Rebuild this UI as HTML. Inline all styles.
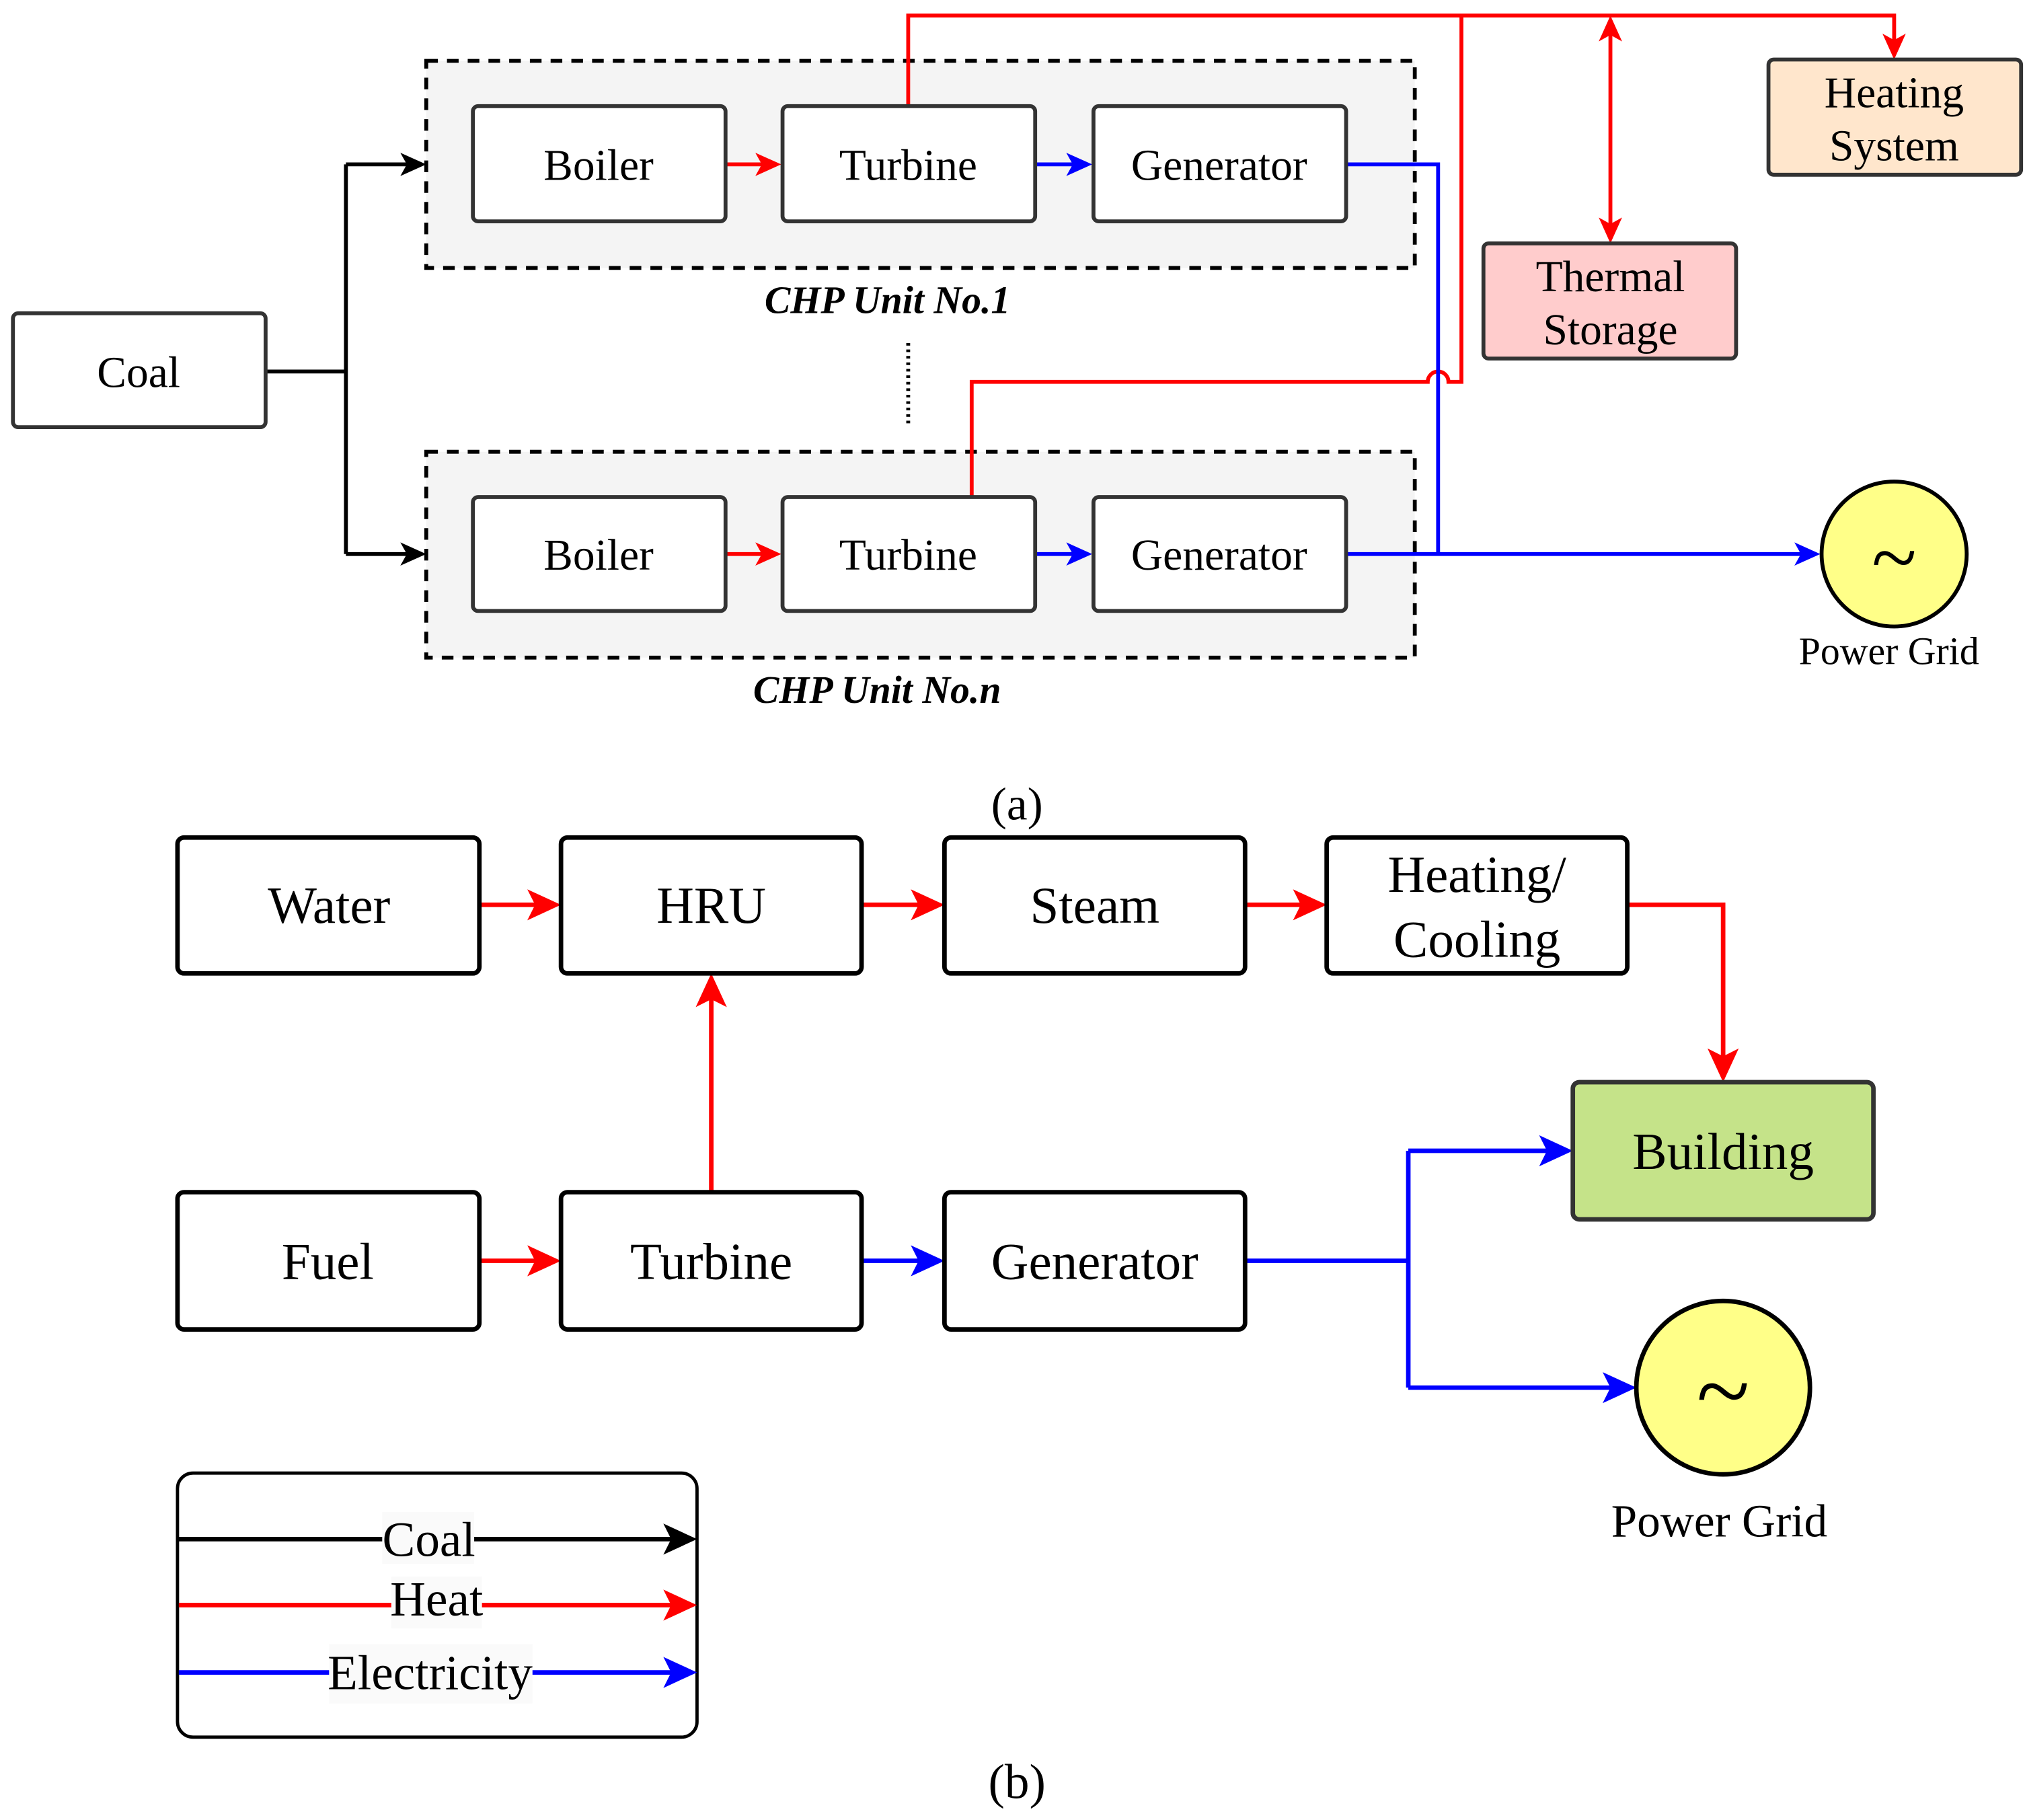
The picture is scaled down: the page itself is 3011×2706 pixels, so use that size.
<!DOCTYPE html>
<html><head><meta charset="utf-8"><style>
html,body{margin:0;padding:0;background:#fff;}
svg{display:block;}
text{font-family:"Liberation Serif","Times New Roman",Times,serif;fill:#000;}
</style></head><body>
<svg width="3011" height="2706" viewBox="0 0 1563 1406" preserveAspectRatio="none" xmlns="http://www.w3.org/2000/svg">

<!-- (a) -->
<rect x="329" y="47" width="763" height="160" fill="#f4f4f4" stroke="#000" stroke-width="3" stroke-dasharray="9,7"/>
<rect x="329" y="349" width="763" height="159" fill="#f4f4f4" stroke="#000" stroke-width="3" stroke-dasharray="9,7"/>

<g stroke="#000" stroke-width="3" fill="none">
<path d="M205,287 H267 M267,127 V428 M267,127 H318 M267,428 H318"/>
</g>
<g fill="#000">
<path d="M329,127 L309,118 L314,127 L309,136Z"/>
<path d="M329,428 L309,419 L314,428 L309,437Z"/>
</g>
<line x1="701" y1="265" x2="701" y2="330" stroke="#000" stroke-width="3" stroke-dasharray="2,3"/>

<g stroke="#f00" stroke-width="3" fill="none">
<path d="M560,127 H592"/>
<path d="M560,428 H592"/>
<path d="M701,82 V12 H1462 V34"/>
<path d="M750,384 V295 H1102 A8,8 0 0 1 1118,295 H1128 V12"/>
<path d="M1243,24 V176"/>
</g>
<g fill="#f00">
<path d="M603,127 L583,118 L588,127 L583,136Z"/>
<path d="M603,428 L583,419 L588,428 L583,437Z"/>
<path d="M1462,46 L1453,26 L1462,31 L1471,26Z"/>
<path d="M1243,12 L1234,32 L1243,27 L1252,32Z"/>
<path d="M1243,188 L1234,168 L1243,173 L1252,168Z"/>
</g>
<g stroke="#00f" stroke-width="3" fill="none">
<path d="M799,127 H832"/>
<path d="M799,428 H832"/>
<path d="M1039,127 H1110 V428"/>
<path d="M1039,428 H1394"/>
</g>
<g fill="#00f">
<path d="M843,127 L823,118 L828,127 L823,136Z"/>
<path d="M843,428 L823,419 L828,428 L823,437Z"/>
<path d="M1405,428 L1385,419 L1390,428 L1385,437Z"/>
</g>

<g stroke="#333" stroke-width="3">
<rect x="10" y="242" width="195" height="88" rx="4" fill="#fff"/>
<rect x="365" y="82" width="195" height="89" rx="4" fill="#fff"/>
<rect x="604" y="82" width="195" height="89" rx="4" fill="#fff"/>
<rect x="844" y="82" width="195" height="89" rx="4" fill="#fff"/>
<rect x="365" y="384" width="195" height="88" rx="4" fill="#fff"/>
<rect x="604" y="384" width="195" height="88" rx="4" fill="#fff"/>
<rect x="844" y="384" width="195" height="88" rx="4" fill="#fff"/>
<rect x="1145" y="188" width="195" height="89" rx="4" fill="#ffcccc"/>
<rect x="1365" y="46" width="195" height="89" rx="4" fill="#ffe6cc"/>
</g>
<circle cx="1462" cy="428" r="56" fill="#ffff88" stroke="#000" stroke-width="3"/>

<g font-size="34" text-anchor="middle">
<text x="107" y="299">Coal</text>
<text x="462" y="139">Boiler</text>
<text x="701" y="139">Turbine</text>
<text x="941" y="139">Generator</text>
<text x="462" y="440">Boiler</text>
<text x="701" y="440">Turbine</text>
<text x="941" y="440">Generator</text>
<text x="1243" y="225">Thermal</text>
<text x="1243" y="266">Storage</text>
<text x="1462" y="83">Heating</text>
<text x="1462" y="124">System</text>
<text x="1462" y="452" font-size="64">~</text>
<text x="1458" y="513" font-size="30">Power Grid</text>
<text x="685" y="242" font-size="30" font-style="italic" font-weight="bold">CHP Unit No.1</text>
<text x="677" y="543" font-size="30" font-style="italic" font-weight="bold">CHP Unit No.n</text>
<text x="785" y="633" font-size="36">(a)</text>
</g>

<!-- (b) -->
<g stroke="#f00" stroke-width="3.5" fill="none">
<path d="M370,699 H415"/>
<path d="M665,699 H711"/>
<path d="M961,699 H1006"/>
<path d="M1256,699 H1330 V818"/>
<path d="M549,921 V770"/>
<path d="M370,974 H415"/>
</g>
<g fill="#f00">
<path d="M433,699 L407,687 L413,699 L407,711Z"/>
<path d="M729,699 L703,687 L709,699 L703,711Z"/>
<path d="M1024,699 L998,687 L1004,699 L998,711Z"/>
<path d="M433,974 L407,962 L413,974 L407,986Z"/>
<path d="M1330,836 L1318,810 L1330,816 L1342,810Z"/>
<path d="M549,752 L537,778 L549,772 L561,778Z"/>
</g>
<g stroke="#00f" stroke-width="3.5" fill="none">
<path d="M665,974 H711"/>
<path d="M961,974 H1087 M1087,889 V1072"/>
<path d="M1087,889 H1196"/>
<path d="M1087,1072 H1245"/>
</g>
<g fill="#00f">
<path d="M729,974 L703,962 L709,974 L703,986Z"/>
<path d="M1214,889 L1188,877 L1194,889 L1188,901Z"/>
<path d="M1263,1072 L1237,1060 L1243,1072 L1237,1084Z"/>
</g>

<g stroke="#000" stroke-width="3.5">
<rect x="137" y="647" width="233" height="105" rx="5" fill="#fff"/>
<rect x="433" y="647" width="232" height="105" rx="5" fill="#fff"/>
<rect x="729" y="647" width="232" height="105" rx="5" fill="#fff"/>
<rect x="1024" y="647" width="232" height="105" rx="5" fill="#fff"/>
<rect x="137" y="921" width="233" height="106" rx="5" fill="#fff"/>
<rect x="433" y="921" width="232" height="106" rx="5" fill="#fff"/>
<rect x="729" y="921" width="232" height="106" rx="5" fill="#fff"/>
<rect x="1214" y="836" width="232" height="106" rx="5" fill="#c5e389" stroke="#333"/>
</g>
<circle cx="1330" cy="1072" r="67" fill="#ffff88" stroke="#000" stroke-width="3.5"/>

<g font-size="40" text-anchor="middle">
<text x="254" y="713">Water</text>
<text x="549" y="713">HRU</text>
<text x="845" y="713">Steam</text>
<text x="1140" y="689">Heating/</text>
<text x="1140" y="739">Cooling</text>
<text x="253" y="988">Fuel</text>
<text x="549" y="988">Turbine</text>
<text x="845" y="988">Generator</text>
<text x="1330" y="903">Building</text>
<text x="1330" y="1100" font-size="76">~</text>
<text x="1327" y="1187" font-size="36">Power Grid</text>
<text x="785" y="1389" font-size="38">(b)</text>
</g>

<!-- legend -->
<rect x="137" y="1138" width="401" height="204" rx="12" fill="#fff" stroke="#000" stroke-width="2.5"/>
<path d="M138,1189 H520" stroke="#000" stroke-width="3.5"/>
<path d="M138,1240 H520" stroke="#f00" stroke-width="3.5"/>
<path d="M138,1292 H520" stroke="#00f" stroke-width="3.5"/>
<path d="M538,1189 L512,1177 L518,1189 L512,1201Z" fill="#000"/>
<path d="M538,1240 L512,1228 L518,1240 L512,1252Z" fill="#f00"/>
<path d="M538,1292 L512,1280 L518,1292 L512,1304Z" fill="#00f"/>
<rect x="295" y="1168" width="71" height="40" fill="#fafafa"/>
<rect x="302" y="1218" width="70" height="40" fill="#fafafa"/>
<rect x="254" y="1270" width="157" height="46" fill="#fafafa"/>
<g font-size="38" text-anchor="middle">
<text x="331" y="1202">Coal</text>
<text x="337" y="1248">Heat</text>
<text x="332" y="1305">Electricity</text>
</g>
</svg>
</body></html>
